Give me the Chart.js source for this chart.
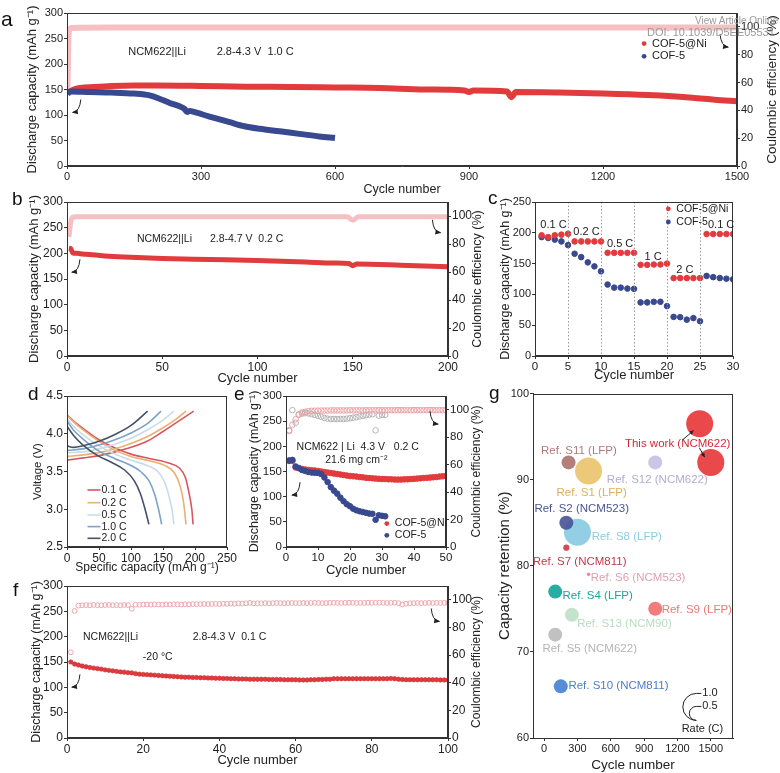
<!DOCTYPE html>
<html>
<head>
<meta charset="utf-8">
<script src="https://cdn.jsdelivr.net/npm/chart.js@4.4.1/dist/chart.umd.min.js"></script>
<style>
html, body { margin: 0; padding: 0; background: #fff; }
#page { position: relative; width: 780px; height: 773px; overflow: hidden; font-family: "Liberation Sans", Arial, sans-serif; }
canvas { position: absolute; }
.tag { position: absolute; font-size: 19px; line-height: 1; color: #111; }
.wm { position: absolute; color: #9a9a9a; line-height: 1; white-space: nowrap; }
</style>
</head>
<body>
<div id="page">
  <canvas id="ca" width="780" height="200" style="left:0px;top:0px"></canvas>
  <canvas id="cb" width="495" height="200" style="left:0px;top:190px"></canvas>
  <canvas id="cc" width="290" height="200" style="left:490px;top:190px"></canvas>
  <canvas id="cd" width="250" height="205" style="left:0px;top:385px"></canvas>
  <canvas id="ce" width="250" height="205" style="left:240px;top:385px"></canvas>
  <canvas id="cf" width="495" height="203" style="left:0px;top:570px"></canvas>
  <canvas id="cg" width="290" height="393" style="left:490px;top:380px"></canvas>
  <div class="tag" style="left:1px;top:8px;font-size:21px">a</div>
  <div class="tag" style="left:12px;top:189px">b</div>
  <div class="tag" style="left:488px;top:188px">c</div>
  <div class="tag" style="left:28px;top:384px">d</div>
  <div class="tag" style="left:234px;top:384px">e</div>
  <div class="tag" style="left:13px;top:580px">f</div>
  <div class="tag" style="left:489px;top:383px">g</div>
  <div class="wm" style="left:695px;top:16px;font-size:10px">View Article Online</div>
  <div class="wm" style="left:647px;top:27px;font-size:11px">DOI: 10.1039/D5EE05531</div>
</div>
<script>
// ---------- a: long cycling 1.0 C
var aNiCycles = [1, 5, 15, 30, 60, 100, 150, 200, 300, 400, 500, 600, 700, 800, 890, 900, 910, 985, 995, 1005, 1100, 1200, 1300, 1400, 1450, 1500];
var aNiCap = [140, 145, 150, 153, 155, 157, 158, 158, 157, 155.5, 155, 154, 153, 150, 148, 145, 148, 146, 135, 145, 144, 142, 139, 134, 130, 127];
var aCofCycles = [1, 10, 50, 100, 150, 185, 207, 230, 252, 263, 269, 275, 280, 319, 364, 397, 431, 476, 520, 565, 600];
var aCofCap = [145, 146, 145, 144, 142, 138.5, 132, 123.5, 117, 112, 106, 108, 107, 97, 86, 78, 73, 68, 63, 58, 55];
var aCECycles = [1, 2, 3, 5, 10, 100, 500, 1000, 1500];
var aCE = [55, 72, 90, 97.5, 99.2, 99.5, 99.5, 99.6, 99.6];

// ---------- b: 4.7 V 0.2 C
var bCycles = [1, 2, 3, 5, 10, 20, 30, 50, 75, 100, 125, 140, 148, 150, 152, 175, 200];
var bCap = [210, 209, 201, 200, 198, 195, 193, 190, 188, 186, 183, 181, 180, 176, 179, 177, 174];
var bCECycles = [1, 2, 3, 5, 10, 50, 100, 147, 150, 153, 200];
var bCE = [85, 96, 99, 99.4, 99.5, 99.5, 99.5, 99.5, 97, 99.4, 99.5];

// ---------- c: rate test
var cCycles = [1, 2, 3, 4, 5, 6, 7, 8, 9, 10, 11, 12, 13, 14, 15, 16, 17, 18, 19, 20, 21, 22, 23, 24, 25, 26, 27, 28, 29, 30];
var cNi = [196, 193, 196, 197, 198.5, 186, 186, 186, 186, 186, 167.5, 167.5, 167.5, 167.5, 167.5, 148, 148, 148.5, 148.5, 150, 126.5, 126.5, 126.5, 126.5, 126.5, 198, 198, 198, 198, 198];
var cCof = [193, 191.5, 189, 186, 180, 166, 160.5, 152, 145.5, 137.5, 116, 111, 111, 109.5, 109, 87, 87, 88, 88, 81, 63.5, 63, 59, 61.5, 56.5, 130, 128, 126.5, 125.5, 124.5];
var cRateText = ['0.1 C', '0.2 C', '0.5 C', '1 C', '2 C', '0.1 C'];
var cSteps = [5, 10, 15, 20, 25];

// ---------- d: voltage profiles
var dRates = ['0.1 C', '0.2 C', '0.5 C', '1.0 C', '2.0 C'];
var dDisCap = [
  [0, 10, 25, 50, 75, 100, 130, 160, 175, 185, 191, 195, 197],
  [0, 10, 25, 50, 75, 100, 130, 155, 168, 177, 182, 186],
  [0, 10, 25, 50, 75, 100, 125, 142, 153, 160, 164, 167],
  [0, 10, 25, 50, 75, 100, 115, 128, 137, 143, 148],
  [0, 10, 25, 50, 70, 90, 105, 115, 122, 128]
];
var dDisV = [
  [4.25, 4.17, 4.07, 3.92, 3.81, 3.73, 3.67, 3.61, 3.55, 3.42, 3.2, 3.0, 2.8],
  [4.25, 4.16, 4.05, 3.9, 3.78, 3.7, 3.64, 3.57, 3.48, 3.3, 3.1, 2.8],
  [4.2, 4.1, 3.99, 3.84, 3.73, 3.65, 3.58, 3.5, 3.35, 3.15, 3.0, 2.8],
  [4.17, 4.05, 3.93, 3.77, 3.67, 3.58, 3.5, 3.38, 3.2, 3.0, 2.8],
  [4.1, 3.98, 3.85, 3.7, 3.62, 3.52, 3.38, 3.2, 3.0, 2.8]
];
var dChCap = [
  [0, 25, 50, 75, 100, 125, 150, 175, 198],
  [0, 25, 50, 75, 100, 125, 150, 170, 186],
  [0, 25, 50, 75, 100, 125, 150, 167],
  [0, 25, 50, 75, 100, 125, 147],
  [0, 10, 25, 50, 75, 100, 126]
];
var dChV = [
  [3.65, 3.68, 3.71, 3.76, 3.82, 3.9, 4.03, 4.17, 4.3],
  [3.7, 3.72, 3.75, 3.8, 3.87, 3.96, 4.08, 4.19, 4.3],
  [3.75, 3.76, 3.8, 3.86, 3.94, 4.05, 4.18, 4.3],
  [3.78, 3.8, 3.85, 3.92, 4.01, 4.13, 4.3],
  [3.84, 3.82, 3.84, 3.9, 3.99, 4.11, 4.3]
];

// ---------- e: high loading 4.3 V 0.2 C
var eNi = [171, 171, 158, 156.5, 155, 154, 153, 152.5, 152, 151, 150, 149, 148, 147, 146, 145, 144, 143, 142, 141,
  140.5, 140, 139, 138.5, 137.5, 137, 136.5, 136, 135.5, 135, 135, 134.5, 134.5, 134, 134, 134, 134.5, 134.5, 135, 135.5,
  136, 136.5, 137, 137.5, 138, 138.5, 139, 140, 140.5, 141];
var eCof = [172, 173, 160, 157, 153, 151, 149, 148, 147.5, 147, 145, 138, 129, 119, 112, 106, 98, 91, 85, 81,
  76, 73, 71, 69.5, 68, 66.5, 66, 54, 63, 62, 61];
var eNiCE = [84.5, 89, 93, 96.5, 98, 98.5, 99, 99.2, 99.3, 99.3, 99.4, 99.4, 99.4, 99.5, 99.5, 99.5, 99.5, 99.5, 99.5, 99.6,
  99.5, 99.6, 99.6, 99.5, 99.6, 99.6, 99.6, 99.6, 99.7, 99.6, 99.6, 99.7, 99.7, 99.6, 99.7, 99.7, 99.7, 99.7, 99.6, 99.7,
  99.7, 99.7, 99.7, 99.7, 99.8, 99.7, 99.7, 99.8, 99.7, 99.7];
var eCofCE = [85, 99.7, 90.5, 96.5, 97.2, 97.5, 97.3, 96.8, 96.2, 95.5, 94.8, 94, 93.5, 93.3, 93.2, 93.2, 93.3, 93.3, 93.5, 93.8,
  94.2, 94.6, 95.1, 95.6, 96, 96.4, 96.8, 85, 95.7, 96.1, 96.3];

// ---------- f: -20 C 0.1 C
var fCap = [150, 146, 144, 142, 140.5, 139, 138, 137, 136, 134.5, 133.5, 132.5, 131.5, 130.5, 130, 129, 128.5, 127, 126, 125.5,
  125, 124.5, 124, 123.5, 123, 122.5, 122, 121.5, 121, 120.5, 120, 120, 119.5, 119.5, 119, 119, 118.5, 118.5, 118, 118,
  117.5, 117.5, 117, 117, 116.5, 116.5, 116.5, 116, 116, 116, 116, 116, 115.5, 115.5, 115.5, 115.5, 115, 115, 115, 115,
  114.5, 114.5, 114.5, 115, 115, 115.5, 115.5, 116, 116, 117, 117, 117, 117, 117, 117, 117, 117, 117, 117, 117,
  117, 117, 117, 117, 117.5, 117, 116, 115.5, 115, 115, 115, 115, 115, 115, 115, 115, 115, 114.5, 114.5, 114.5];
var fCE = [62, 92, 95.8, 96, 96.2, 96, 96.3, 96.1, 96, 96.2, 96.3, 96.1, 96.2, 96, 96.3, 96.2, 93.5, 96.5, 96.4, 96.6,
  96.6, 96.5, 96.7, 96.6, 96.5, 96.7, 96.6, 96.8, 96.7, 96.6, 96.8, 96.7, 96.9, 96.8, 96.9, 97, 96.9, 97, 97.1, 97,
  97.2, 97.1, 97.3, 97.2, 97.4, 97.3, 97.5, 97.8, 97.4, 97.5, 97.5, 97.6, 97.5, 97.6, 97.7, 97.6, 97.5, 97.6, 97.7, 97.6,
  97.6, 97.7, 97.6, 97.7, 97.8, 97.7, 97.6, 97.7, 97.8, 97.9, 97.8, 97.7, 97.8, 97.9, 97.8, 97.7, 97.8, 97.8, 97.9, 97.8,
  97.8, 97.9, 97.8, 97.7, 97.8, 97.9, 97.6, 96.6, 97.2, 97.5, 97.6, 97.7, 97.6, 97.7, 97.8, 97.7, 97.8, 97.7, 97.8, 97.7];

// ---------- g: comparison
var gNames = ['This work (NCM622)', 'This work (NCM622)', 'Ref. S11 (LFP)', 'Ref. S1 (LFP)', 'Ref. S12 (NCM622)', 'Ref. S8 (LFP)', 'Ref. S2 (NCM523)',
  'Ref. S7 (NCM811)', 'Ref. S6 (NCM523)', 'Ref. S4 (LFP)', 'Ref. S9 (LFP)', 'Ref. S13 (NCM90)', 'Ref. S5 (NCM622)', 'Ref. S10 (NCM811)'];
var gCycles = [1400, 1500, 220, 400, 1000, 300, 200, 200, 400, 100, 1000, 250, 100, 150];
var gRetention = [96.5, 92, 92, 91, 92, 83.9, 85, 82.1, 79, 77, 75, 74.3, 72, 66];
var gRate = [1.0, 1.0, 0.5, 1.0, 0.5, 1.0, 0.5, 0.2, 0.1, 0.5, 0.5, 0.5, 0.5, 0.5];
var gKeyRates = [1.0, 0.5];
var gXTicks = [0, 300, 600, 900, 1200, 1500];

// ---------- styles
var FONT = '"Liberation Sans", Arial, sans-serif';
var RED = '#e23b3d', BLUE = '#38498f', PINK = '#f4c0c4', GREY = '#b4b4b4';
var dColors = ['#d9555f', '#eab072', '#c9dde9', '#7ea3c6', '#435266'];
var gColors = ['rgba(232,58,60,0.92)', 'rgba(232,58,60,0.92)', 'rgba(172,112,110,0.9)', 'rgba(233,192,102,0.88)', 'rgba(196,192,226,0.9)',
  'rgba(132,200,224,0.88)', 'rgba(72,82,150,0.9)', 'rgba(200,60,70,0.9)', 'rgba(226,130,150,0.9)', 'rgba(22,166,156,0.92)',
  'rgba(240,110,110,0.9)', 'rgba(190,224,200,0.9)', 'rgba(186,186,186,0.9)', 'rgba(72,130,214,0.92)'];
var gTextColors = ['#d42a35', '#d42a35', '#b07a78', '#d6b25c', '#b2aed0', '#8ecbe0', '#4a5590', '#c23a48', '#e0a0b0', '#18a89a',
  '#ee7878', '#b9dbc2', '#b5b5b5', '#4a80cc'];
function rad(rate) { return 13 * rate + 0.5; }

Chart.defaults.font.family = FONT;
Chart.defaults.color = '#222';

function pts(xs, ys) { return xs.map(function (x, i) { return {x: x, y: ys[i]}; }); }
function cyc(vals) { return vals.map(function (v, i) { return {x: i + 1, y: v}; }); }

function axis(o) {
  var ax = {
    type: 'linear', position: o.pos || 'bottom', min: o.min, max: o.max,
    afterFit: function (s) { if (s.isHorizontal()) s.height = o.size; else s.width = o.size; },
    border: {color: '#333', width: 1},
    grid: {drawOnChartArea: false, drawTicks: true, tickLength: 3, color: '#333'},
    ticks: {
      stepSize: o.step, includeBounds: false, font: {size: o.tick || 11}, color: '#222', padding: 1, maxRotation: 0, autoSkip: false,
      callback: function (v) { return o.fmt ? v.toFixed(o.fmt) : String(v); }
    },
    title: {display: false}
  };
  if (o.at) ax.afterBuildTicks = function (s) { s.ticks = o.at.map(function (v) { return {value: v}; }); };
  if (o.title) ax.title = {display: true, text: o.title, color: '#222', font: {size: o.tsize}, padding: {top: o.tpad, bottom: o.tpad}};
  return ax;
}

function opts(pad, scales) {
  return {
    responsive: false, animation: false, events: [],
    layout: {padding: pad},
    plugins: {legend: {display: false}, tooltip: {enabled: false}},
    scales: scales
  };
}

// extra drawing per canvas: frame, notes, legends, arrows
var EXTRA = {};

function curl(ctx, x, y, dir) {
  ctx.beginPath();
  ctx.moveTo(x - dir * 8, y - 13);
  ctx.quadraticCurveTo(x - dir * 7, y - 1, x, y);
  ctx.stroke();
  var ang = Math.atan2(1, dir * 7);
  ctx.beginPath();
  ctx.moveTo(x + dir * 1, y);
  ctx.lineTo(x - 5 * Math.cos(ang) + 2.5 * Math.sin(ang), y - 5 * Math.sin(ang) - 2.5 * Math.cos(ang));
  ctx.lineTo(x - 5 * Math.cos(ang) - 2.5 * Math.sin(ang), y - 5 * Math.sin(ang) + 2.5 * Math.cos(ang));
  ctx.closePath();
  ctx.fill();
}

Chart.register({
  id: 'extras',
  afterDraw: function (chart) {
    var e = EXTRA[chart.canvas.id];
    if (!e) return;
    var ctx = chart.ctx, a = chart.chartArea, xs = chart.scales.x, ys = chart.scales.y;
    var X = function (v) { return xs.getPixelForValue(v); };
    var Y = function (v) { return ys.getPixelForValue(v); };
    ctx.save();
    (e.vlines || []).forEach(function (v) {
      ctx.save();
      ctx.strokeStyle = '#9a9a9a'; ctx.lineWidth = 1; ctx.setLineDash([1.5, 2]);
      ctx.beginPath(); ctx.moveTo(Math.round(X(v)) + 0.5, a.top); ctx.lineTo(Math.round(X(v)) + 0.5, a.bottom); ctx.stroke();
      ctx.restore();
    });
    ctx.strokeStyle = '#333'; ctx.lineWidth = 1;
    ctx.strokeRect(Math.round(a.left) + 0.5, Math.round(a.top) + 0.5, Math.round(a.right - a.left) - 1, Math.round(a.bottom - a.top) - 1);
    ctx.textBaseline = 'middle';
    (e.notes || []).forEach(function (n) {
      ctx.font = (n.size || 10.5) + 'px ' + FONT;
      ctx.fillStyle = n.color || '#222';
      ctx.textAlign = n.align || 'left';
      ctx.fillText(n.text, X(n.x), Y(n.y));
    });
    (e.legend || []).forEach(function (l) {
      var px = X(l.x), py = Y(l.y);
      ctx.fillStyle = l.color; ctx.strokeStyle = l.color;
      if (l.line) {
        ctx.lineWidth = 1.6;
        ctx.beginPath(); ctx.moveTo(px, py); ctx.lineTo(px + 13, py); ctx.stroke();
        ctx.fillStyle = '#222';
        ctx.font = (l.size || 10.5) + 'px ' + FONT; ctx.textAlign = 'left';
        ctx.fillText(l.text, px + 14, py);
      } else {
        ctx.beginPath(); ctx.arc(px, py, 2.4, 0, Math.PI * 2); ctx.fill();
        ctx.fillStyle = '#222';
        ctx.font = (l.size || 10.5) + 'px ' + FONT; ctx.textAlign = 'left';
        ctx.fillText(l.text, px + 8, py);
      }
    });
    ctx.strokeStyle = '#222'; ctx.fillStyle = '#222'; ctx.lineWidth = 1;
    (e.curls || []).forEach(function (c) { curl(ctx, X(c.x), Y(c.y), c.dir); });
    (e.arrows || []).forEach(function (r) {
      var x1 = X(r.x1), y1 = Y(r.y1), x2 = X(r.x2), y2 = Y(r.y2);
      var ang = Math.atan2(y2 - y1, x2 - x1);
      ctx.beginPath(); ctx.moveTo(x1, y1); ctx.lineTo(x2, y2); ctx.stroke();
      ctx.beginPath(); ctx.moveTo(x2, y2);
      ctx.lineTo(x2 - 4 * Math.cos(ang) + 2 * Math.sin(ang), y2 - 4 * Math.sin(ang) - 2 * Math.cos(ang));
      ctx.lineTo(x2 - 4 * Math.cos(ang) - 2 * Math.sin(ang), y2 - 4 * Math.sin(ang) + 2 * Math.cos(ang));
      ctx.closePath(); ctx.fill();
    });
    if (e.rateKey) {
      var k = e.rateKey, cx = X(k.x), base = Y(k.y);
      ctx.font = '11px ' + FONT; ctx.textAlign = 'left';
      k.rates.forEach(function (rt) {
        var r = rad(rt), cy = base - r;
        ctx.beginPath(); ctx.arc(cx, cy, r, -Math.PI / 2, Math.PI / 2, true); ctx.stroke();
        ctx.beginPath(); ctx.moveTo(cx, cy - r); ctx.lineTo(cx + 5, cy - r); ctx.stroke();
        ctx.fillText(rt.toFixed(1), cx + 6, cy - r);
      });
      ctx.textAlign = 'center';
      ctx.fillText(k.title, X(k.tx), Y(k.ty));
    }
    if (e.rightTitle) {
      ctx.save();
      ctx.translate(a.right + e.rightTitle.dx, (a.top + a.bottom) / 2);
      ctx.rotate(-Math.PI / 2);
      ctx.font = e.rightTitle.size + 'px ' + FONT;
      ctx.fillStyle = '#222'; ctx.textAlign = 'center'; ctx.textBaseline = 'middle';
      ctx.fillText(e.rightTitle.text, 0, 0);
      ctx.restore();
    }
    ctx.restore();
  }
});

var CAP = 'Discharge capacity (mAh g\u207B\u00B9)';
var CEFF = 'Coulombic efficiency (%)';

// ---------- panel a
EXTRA.ca = {
  notes: [{x: 137, y: 224, text: 'NCM622||Li', size: 11}, {x: 335, y: 224, text: '2.8-4.3 V  1.0 C', size: 11}],
  legend: [{x: 1292, y: 240, text: 'COF-5@Ni', color: RED, size: 11}, {x: 1292, y: 215, text: 'COF-5', color: BLUE, size: 11}],
  curls: [{x: 13, y: 105, dir: -1}, {x: 1480, y: 233, dir: 1}],
  rightTitle: {text: CEFF, dx: 35, size: 13.5}
};
new Chart('ca', {
  type: 'line',
  data: {datasets: [
    {data: pts(aCofCycles, aCofCap), borderColor: BLUE, borderWidth: 6, pointRadius: 0, cubicInterpolationMode: 'monotone', yAxisID: 'y'},
    {data: pts(aNiCycles, aNiCap), borderColor: RED, borderWidth: 6, pointRadius: 0, cubicInterpolationMode: 'monotone', yAxisID: 'y'},
    {data: pts(aCECycles, aCE), borderColor: PINK, borderWidth: 6, pointRadius: 0, cubicInterpolationMode: 'monotone', yAxisID: 'y2'}
  ]},
  options: opts({top: 13}, {
    x: axis({min: 0, max: 1500, step: 300, size: 34, tick: 11, title: 'Cycle number', tsize: 12.5, tpad: 2.5}),
    y: axis({pos: 'left', min: 0, max: 300, step: 50, size: 67, tick: 11, title: CAP, tsize: 13, tpad: 25}),
    y2: axis({pos: 'right', min: 0, max: 110, step: 20, size: 43, tick: 11})
  })
});

// ---------- panel b
EXTRA.cb = {
  notes: [{x: 36.7, y: 227, text: 'NCM622||Li'}, {x: 75, y: 227, text: '2.8-4.7 V  0.2 C'}],
  curls: [{x: 2.6, y: 163, dir: -1}, {x: 196, y: 240, dir: 1}],
  rightTitle: {text: CEFF, dx: 30, size: 12.5}
};
new Chart('cb', {
  type: 'line',
  data: {datasets: [
    {data: pts(bCycles, bCap), borderColor: RED, borderWidth: 5, pointRadius: 0, cubicInterpolationMode: 'monotone', yAxisID: 'y'},
    {data: pts(bCECycles, bCE), borderColor: PINK, borderWidth: 5, pointRadius: 0, cubicInterpolationMode: 'monotone', yAxisID: 'y2'}
  ]},
  options: opts({top: 12}, {
    x: axis({min: 0, max: 200, step: 50, size: 34, tick: 12, title: 'Cycle number', tsize: 13, tpad: 4}),
    y: axis({pos: 'left', min: 0, max: 300, step: 50, size: 67, tick: 12, title: CAP, tsize: 13, tpad: 27}),
    y2: axis({pos: 'right', min: 0, max: 110, step: 20, size: 47, tick: 12})
  })
});

// ---------- panel c
var cLabX = [2.8, 7.8, 12.9, 17.9, 22.7, 28.2], cLabY = [212, 201, 182, 161, 139, 212];
EXTRA.cc = {
  vlines: cSteps,
  notes: cRateText.map(function (t, i) { return {x: cLabX[i], y: cLabY[i], text: t, size: 11, align: 'center'}; }),
  legend: [{x: 20.2, y: 239, text: 'COF-5@Ni', color: RED}, {x: 20.2, y: 217.5, text: 'COF-5', color: BLUE}]
};
new Chart('cc', {
  type: 'scatter',
  data: {datasets: [
    {data: pts(cCycles, cNi), backgroundColor: RED, borderColor: RED, pointRadius: 2.8},
    {data: pts(cCycles, cCof), backgroundColor: BLUE, borderColor: BLUE, pointRadius: 2.8}
  ]},
  options: opts({top: 12, right: 47}, {
    x: axis({min: 0, max: 30, step: 5, size: 34, tick: 11.5, title: 'Cycle number', tsize: 13, tpad: 7}),
    y: axis({pos: 'left', min: 0, max: 250, step: 50, size: 45, tick: 11, title: CAP, tsize: 12.5, tpad: 8.5})
  })
});

// ---------- panel d
var dLegY = [3.255, 3.087, 2.924, 2.77, 2.615];
EXTRA.cd = {
  legend: dRates.map(function (t, i) { return {x: 32, y: dLegY[i], text: t, color: dColors[i], line: true, size: 10.5}; })
};
var dSets = [];
dRates.forEach(function (t, i) {
  dSets.push({data: pts(dChCap[i], dChV[i]), borderColor: dColors[i], borderWidth: 1.6, pointRadius: 0, showLine: true, cubicInterpolationMode: 'monotone'});
  dSets.push({data: pts(dDisCap[i], dDisV[i]), borderColor: dColors[i], borderWidth: 1.6, pointRadius: 0, showLine: true, cubicInterpolationMode: 'monotone'});
});
new Chart('cd', {
  type: 'scatter',
  data: {datasets: dSets.reverse()},
  options: opts({top: 11, right: 23}, {
    x: axis({min: 0, max: 250, step: 50, size: 43, tick: 12, title: 'Specific capacity (mAh g\u207B\u00B9)', tsize: 12, tpad: 15}),
    y: axis({pos: 'left', min: 2.5, max: 4.5, step: 0.5, size: 67, tick: 12, fmt: 1, title: 'Voltage (V)', tsize: 11.5, tpad: 31})
  })
});

// ---------- panel e
EXTRA.ce = {
  notes: [{x: 3.3, y: 199, text: 'NCM622 | Li  4.3 V   0.2 C', size: 10.5}, {x: 22, y: 172, text: '21.6 mg cm\u207B\u00B2', size: 10.5, align: 'center'}],
  legend: [{x: 31.5, y: 46.5, text: 'COF-5@Ni', color: RED}, {x: 31.5, y: 23.2, text: 'COF-5', color: BLUE}],
  curls: [{x: 1.9, y: 103, dir: -1}, {x: 47.5, y: 244, dir: 1}],
  rightTitle: {text: CEFF, dx: 31, size: 12}
};
new Chart('ce', {
  type: 'scatter',
  data: {datasets: [
    {data: cyc(eCof), backgroundColor: BLUE, borderColor: BLUE, pointRadius: 2.8, yAxisID: 'y'},
    {data: cyc(eNi), backgroundColor: RED, borderColor: RED, pointRadius: 2.8, yAxisID: 'y'},
    {data: cyc(eNiCE), backgroundColor: 'rgba(0,0,0,0)', borderColor: '#eba0a6', borderWidth: 1, pointRadius: 2.8, yAxisID: 'y2'},
    {data: cyc(eCofCE), backgroundColor: 'rgba(0,0,0,0)', borderColor: GREY, borderWidth: 1, pointRadius: 2.8, yAxisID: 'y2'}
  ]},
  options: opts({top: 11}, {
    x: axis({min: 0, max: 50, step: 10, size: 43, tick: 11.5, title: 'Cycle number', tsize: 13, tpad: 12}),
    y: axis({pos: 'left', min: 0, max: 300, step: 50, size: 46, tick: 11.5, title: CAP, tsize: 12.5, tpad: 7.5}),
    y2: axis({pos: 'right', min: 0, max: 110, step: 20, size: 44, tick: 11.5})
  })
});

// ---------- panel f
EXTRA.cf = {
  notes: [{x: 4.2, y: 199, text: 'NCM622||Li'}, {x: 33, y: 199, text: '2.8-4.3 V  0.1 C'}, {x: 19.9, y: 159, text: '-20 \u00B0C'}],
  curls: [{x: 1.3, y: 100, dir: -1}, {x: 97.7, y: 230, dir: 1}],
  rightTitle: {text: CEFF, dx: 29, size: 12}
};
new Chart('cf', {
  type: 'scatter',
  data: {datasets: [
    {data: cyc(fCap), backgroundColor: RED, borderColor: '#c92a30', borderWidth: 0.6, pointRadius: 2.2, yAxisID: 'y'},
    {data: cyc(fCE), backgroundColor: 'rgba(0,0,0,0)', borderColor: '#eba9ae', borderWidth: 1, pointRadius: 2.4, yAxisID: 'y2'}
  ]},
  options: opts({top: 16}, {
    x: axis({min: 0, max: 100, step: 20, size: 35, tick: 12, title: 'Cycle number', tsize: 13, tpad: 4.5}),
    y: axis({pos: 'left', min: 0, max: 300, step: 50, size: 67, tick: 12, title: CAP, tsize: 12.5, tpad: 29.5}),
    y2: axis({pos: 'right', min: 0, max: 110, step: 20, size: 47, tick: 12})
  })
});

// ---------- panel g
var gLabX = [1202, null, 313, 428, 1019, 744, 338, 320, 846, 482, 1374, 723, 410, 669];
var gLabY = [94.1, null, 93.4, 88.5, 90.0, 83.4, 86.6, 80.4, 78.6, 76.5, 74.9, 73.2, 70.3, 66];
var gNotes = [];
gNames.forEach(function (t, i) {
  if (gLabX[i] !== null) gNotes.push({x: gLabX[i], y: gLabY[i], text: t, size: 11.5, align: 'center', color: gTextColors[i]});
});
EXTRA.cg = {
  notes: gNotes,
  arrows: [{x1: 1245, y1: 94.6, x2: 1345, y2: 95.7}, {x1: 1397, y1: 93.7, x2: 1445, y2: 92.6}],
  rateKey: {x: 1370, y: 62.04, rates: gKeyRates, title: 'Rate (C)', tx: 1425, ty: 61.1}
};
new Chart('cg', {
  type: 'bubble',
  data: {datasets: [{
    data: gCycles.map(function (c, i) { return {x: c, y: gRetention[i], r: rad(gRate[i])}; }),
    backgroundColor: gColors, borderColor: gColors, borderWidth: 0
  }]},
  options: opts({top: 12, right: 47}, {
    x: axis({min: -100, max: 1700, at: gXTicks, size: 35, tick: 11, title: 'Cycle number', tsize: 13.5, tpad: 0}),
    y: axis({pos: 'left', min: 60, max: 100, step: 10, size: 43, tick: 11, title: 'Capacity retention (%)', tsize: 15, tpad: 6})
  })
});
</script>
</body>
</html>
